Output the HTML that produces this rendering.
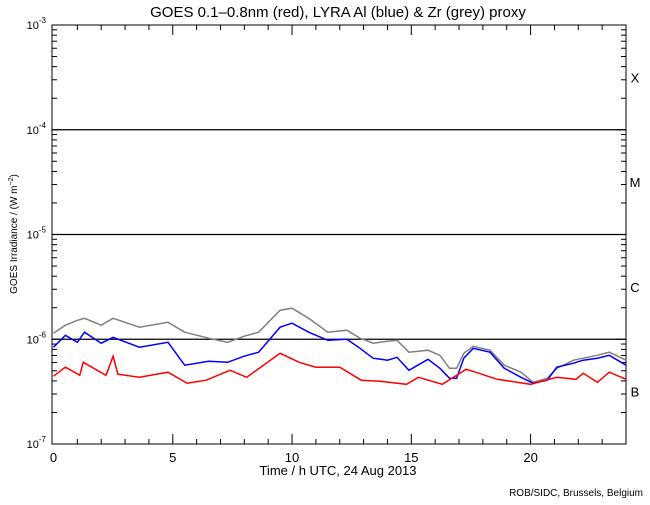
<!DOCTYPE html>
<html><head><meta charset="utf-8"><style>
body{margin:0;background:#fff;}
svg text{font-family:"Liberation Sans",sans-serif;fill:#000;}
</style></head><body>
<svg id="chart" width="650" height="500" xmlns="http://www.w3.org/2000/svg">
<rect x="0" y="0" width="650" height="500" fill="#fff"/>
<text x="338" y="17" font-size="15" text-anchor="middle">GOES 0.1–0.8nm (red), LYRA Al (blue) &amp; Zr (grey) proxy</text>
<g id="axes"></g>
<g id="series"></g>
<text x="338" y="475" font-size="13" text-anchor="middle">Time / h UTC, 24 Aug 2013</text>
<text transform="translate(17,234) rotate(-90)" font-size="10" text-anchor="middle">GOES Irradiance / (W m<tspan dy="-4" font-size="7">−2</tspan><tspan dy="4">)</tspan></text>
<text x="643" y="496" font-size="10" text-anchor="end">ROB/SIDC, Brussels, Belgium</text>
</svg>
<script>
const xTicks=[0,5,10,15,20];
const yDecades=[-7,-6,-5,-4,-3];
const flareClasses=["B","C","M","X"];
const flareLevels=[-7,-6,-5,-4];
const redHours=[0,0.5,1.1,1.25,2.2,2.5,2.7,3.6,4.8,5.6,6.4,7.4,8.1,9.5,10.3,11,12,12.9,13.7,14.8,15.3,16.3,17.3,18.6,20,21.1,21.9,22.2,22.8,23.3,24];
const redLog=[-6.353,-6.267,-6.344,-6.220,-6.344,-6.162,-6.334,-6.363,-6.315,-6.420,-6.391,-6.296,-6.363,-6.134,-6.220,-6.267,-6.267,-6.391,-6.401,-6.430,-6.363,-6.430,-6.286,-6.382,-6.430,-6.363,-6.382,-6.325,-6.411,-6.315,-6.382];
const lyraHours=[0,0.5,1,1.3,2,2.5,3.6,4.8,5.5,6.5,7.3,8,8.6,9.5,10,10.7,11.5,12.3,12.85,13.4,14,14.4,14.9,15.7,16.2,16.6,16.9,17.2,17.6,18.3,18.9,19.6,20.1,20.7,21.1,21.8,22.2,22.8,23.3,24];
const blueLog=[-6.076,-5.962,-6.029,-5.933,-6.038,-5.981,-6.076,-6.029,-6.248,-6.210,-6.220,-6.162,-6.124,-5.885,-5.847,-5.933,-6.010,-6.0,-6.086,-6.181,-6.200,-6.172,-6.296,-6.191,-6.277,-6.372,-6.372,-6.181,-6.086,-6.124,-6.277,-6.363,-6.420,-6.391,-6.267,-6.229,-6.200,-6.181,-6.153,-6.248];
const greyLog=[-5.943,-5.866,-5.819,-5.800,-5.866,-5.800,-5.885,-5.838,-5.933,-5.990,-6.029,-5.971,-5.933,-5.723,-5.704,-5.800,-5.933,-5.914,-5.990,-6.038,-6.019,-6.010,-6.124,-6.105,-6.153,-6.277,-6.277,-6.134,-6.067,-6.105,-6.248,-6.315,-6.411,-6.372,-6.277,-6.200,-6.181,-6.153,-6.124,-6.200];

const NS="http://www.w3.org/2000/svg";
const L=52,R=626,T=25,B=444;
function xs(h){return 53.5+h*(R-53.5)/24;}
function ys(lg){return B-(lg+7)*(B-T)/4;}
function mk(tag,attrs,parent){const e=document.createElementNS(NS,tag);for(const k in attrs)e.setAttribute(k,attrs[k]);parent.appendChild(e);return e;}
const ax=document.getElementById('axes');
let fr=mk('rect',{x:L,y:T,width:R-L,height:B-T,fill:'none',stroke:'#000','stroke-width':1},ax);


// decade lines
flareLevels.forEach(function(d){if(d>-7){let l=mk('line',{x1:L,x2:R,y1:ys(d),y2:ys(d),stroke:'#000','stroke-width':1.2},ax);

}});
flareClasses.forEach(function(c,i){let t=mk('text',{x:635,y:ys(flareLevels[i]+0.5)+5,'font-size':13,'text-anchor':'middle'},ax);t.textContent=c;

});
// y ticks
yDecades.forEach(function(d){
  [L,R].forEach(function(x0){const s=x0===L?1:-1;mk('line',{x1:x0,x2:x0+s*10,y1:ys(d),y2:ys(d),stroke:'#000'},ax);
  if(d<-3){for(let m=2;m<10;m++){const y=ys(d+Math.log10(m));mk('line',{x1:x0,x2:x0+s*5,y1:y,y2:y,stroke:'#000'},ax);}}});
  let t=mk('text',{x:46,y:ys(d)+4,'font-size':11,'text-anchor':'end'},ax);
  
  
  t.innerHTML='10<tspan dy="-6" font-size="8">'+d+'</tspan>';
});
for(let h=1;h<24;h++){[B,T].forEach(function(y0){const s=y0===B?-1:1;const len=(h%5===0)?10:5;mk('line',{x1:xs(h),x2:xs(h),y1:y0,y2:y0+s*len,stroke:'#000'},ax);});}
xTicks.forEach(function(h){let t=mk('text',{x:xs(h),y:462,'font-size':13,'text-anchor':'middle'},ax);t.textContent=h;

});
const sg=document.getElementById('series');
function line(hs,vals,col,name){const pts=hs.map(function(h,i){return xs(h).toFixed(1)+','+ys(vals[i]).toFixed(1);}).join(' ');
 const p=mk('polyline',{points:pts,fill:'none',stroke:col,'stroke-width':1.5},sg);
 
 }
line(lyraHours,greyLog,'#808080','lyra-zr-series');
line(lyraHours,blueLog,'#0000ff','lyra-al-series');
line(redHours,redLog,'#ff0000','goes-series');
</script>
</body></html>
